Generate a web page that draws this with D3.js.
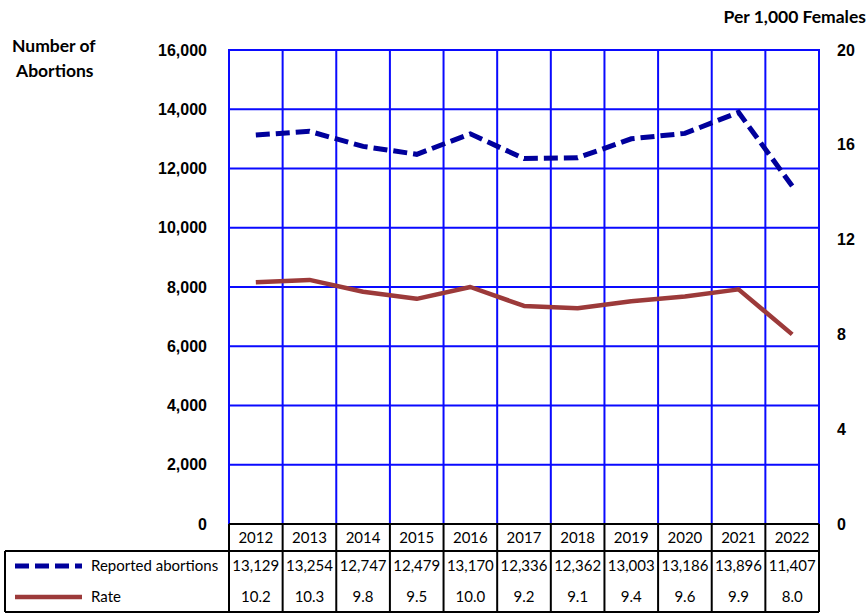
<!DOCTYPE html>
<html>
<head>
<meta charset="utf-8">
<script src="https://cdn.jsdelivr.net/npm/d3@7"></script>
<style>
  body { margin: 0; background: #fff; }
  svg { display: block; }
</style>
</head>
<body>
<svg id="chart" width="868" height="614"></svg>
<script>
// Yearly counts and rate per 1,000 females
const years = ["2012","2013","2014","2015","2016","2017","2018","2019","2020","2021","2022"];
const reported = [13129, 13254, 12747, 12479, 13170, 12336, 12362, 13003, 13186, 13896, 11407];
const rate = [10.2, 10.3, 9.8, 9.5, 10.0, 9.2, 9.1, 9.4, 9.6, 9.9, 8.0];
const leftTicks = [0, 2000, 4000, 6000, 8000, 10000, 12000, 14000, 16000];
const rightTicks = [0, 4, 8, 12, 16, 20];

const svg = d3.select("#chart");
const plot = { left: 229, right: 819, top: 50, bottom: 524 };
const tableLeft = 5;
const rowH = { header: 27, row1: 30, row2: 31 };
const gridBlue = "#0a0aff";
const navy = "#00009c";
const brick = "#9c3a3a";
const labelFont = "Lato, 'Open Sans', sans-serif";
const tickFont = "'Liberation Sans', Arial, sans-serif";

const x = d3.scaleBand().domain(years).range([plot.left, plot.right]).padding(0);
const yL = d3.scaleLinear().domain([0, 16000]).range([plot.bottom, plot.top]);
const yR = d3.scaleLinear().domain([0, 20]).range([plot.bottom, plot.top]);
const cx = d => x(d) + x.bandwidth() / 2;

// Grid
const grid = svg.append("g");
grid.selectAll("line.h").data(leftTicks.filter(t => t > 0)).join("line")
  .attr("x1", plot.left).attr("x2", plot.right)
  .attr("y1", d => yL(d)).attr("y2", d => yL(d))
  .attr("stroke", gridBlue).attr("stroke-width", 2);
const vEdges = years.map(d => x(d)).concat([plot.right]);
grid.selectAll("line.v").data(vEdges).join("line")
  .attr("x1", d => d).attr("x2", d => d)
  .attr("y1", plot.top - 1).attr("y2", plot.bottom)
  .attr("stroke", gridBlue).attr("stroke-width", 2);

// Axes (labels only)
const axL = svg.append("g").attr("transform", `translate(${plot.left - 19},0)`)
  .call(d3.axisLeft(yL).tickValues(leftTicks).tickSize(0).tickFormat(d3.format(",")));
const axR = svg.append("g").attr("transform", `translate(${plot.right + 10},0)`)
  .call(d3.axisRight(yR).tickValues(rightTicks).tickSize(0));
[axL, axR].forEach(ax => {
  ax.select(".domain").remove();
  ax.selectAll("text").attr("font-family", tickFont).attr("font-weight", "bold")
    .attr("font-size", 16).attr("fill", "#000");
});
axR.selectAll("text").attr("x", 8);

// Axis titles
const titleFont = (sel) => sel.attr("font-family", labelFont).attr("font-weight", "bold")
  .attr("font-size", 17.5).attr("fill", "#000");
svg.append("text").attr("x", 12).attr("y", 52).call(titleFont).text("Number of");
svg.append("text").attr("x", 16).attr("y", 77).call(titleFont).text("Abortions");
svg.append("text").attr("x", 866).attr("y", 23).attr("text-anchor", "end").call(titleFont)
  .text("Per 1,000 Females");

// Series lines
const lineL = d3.line().x((d, i) => cx(years[i])).y(d => yL(d));
const lineR = d3.line().x((d, i) => cx(years[i])).y(d => yR(d));
svg.append("path").datum(rate).attr("d", lineR)
  .attr("fill", "none").attr("stroke", brick).attr("stroke-width", 4.5)
  .attr("stroke-linejoin", "round");
svg.append("path").datum(reported).attr("d", lineL)
  .attr("fill", "none").attr("stroke", navy).attr("stroke-width", 5)
  .attr("stroke-dasharray", "14,6");

// Data table
const tbl = svg.append("g");
const yHeadTop = plot.bottom, yRow1 = yHeadTop + rowH.header,
      yRow2 = yRow1 + rowH.row1, yEnd = yRow2 + rowH.row2;
const black = "#000";
// horizontal rules
tbl.append("line").attr("x1", plot.left).attr("x2", plot.right).attr("y1", yHeadTop).attr("y2", yHeadTop)
  .attr("stroke", black).attr("stroke-width", 2);
tbl.append("line").attr("x1", tableLeft).attr("x2", plot.right).attr("y1", yRow1).attr("y2", yRow1)
  .attr("stroke", black).attr("stroke-width", 2);
tbl.append("line").attr("x1", tableLeft).attr("x2", plot.right).attr("y1", yEnd).attr("y2", yEnd)
  .attr("stroke", black).attr("stroke-width", 2);
// vertical rules
tbl.append("line").attr("x1", tableLeft).attr("x2", tableLeft).attr("y1", yRow1).attr("y2", yEnd)
  .attr("stroke", black).attr("stroke-width", 2);
tbl.selectAll("line.col").data(vEdges).join("line")
  .attr("x1", d => d).attr("x2", d => d).attr("y1", yHeadTop).attr("y2", yEnd)
  .attr("stroke", black).attr("stroke-width", 2);

const cellText = (sel) => sel.attr("text-anchor", "middle")
  .attr("font-family", labelFont).attr("font-size", 15).attr("fill", "#000");
tbl.selectAll("text.yr").data(years).join("text").call(cellText)
  .attr("x", d => cx(d)).attr("y", yHeadTop + 19).text(d => d);
tbl.selectAll("text.rep").data(reported).join("text").call(cellText)
  .attr("x", (d, i) => cx(years[i])).attr("y", yRow1 + 20).text(d => d3.format(",")(d));
tbl.selectAll("text.rate").data(rate).join("text").call(cellText)
  .attr("x", (d, i) => cx(years[i])).attr("y", yRow2 + 21).text(d => d.toFixed(1));

// Legend keys inside the table
tbl.append("line").attr("x1", 15).attr("x2", 82).attr("y1", yRow1 + 15).attr("y2", yRow1 + 15)
  .attr("stroke", navy).attr("stroke-width", 5).attr("stroke-dasharray", "14,6");
tbl.append("line").attr("x1", 15).attr("x2", 82).attr("y1", yRow2 + 16).attr("y2", yRow2 + 16)
  .attr("stroke", brick).attr("stroke-width", 4.5);
tbl.append("text").attr("x", 91).attr("y", yRow1 + 20)
  .attr("font-family", labelFont).attr("font-size", 15).text("Reported abortions");
tbl.append("text").attr("x", 91).attr("y", yRow2 + 21)
  .attr("font-family", labelFont).attr("font-size", 15).text("Rate");
</script>
</body>
</html>
